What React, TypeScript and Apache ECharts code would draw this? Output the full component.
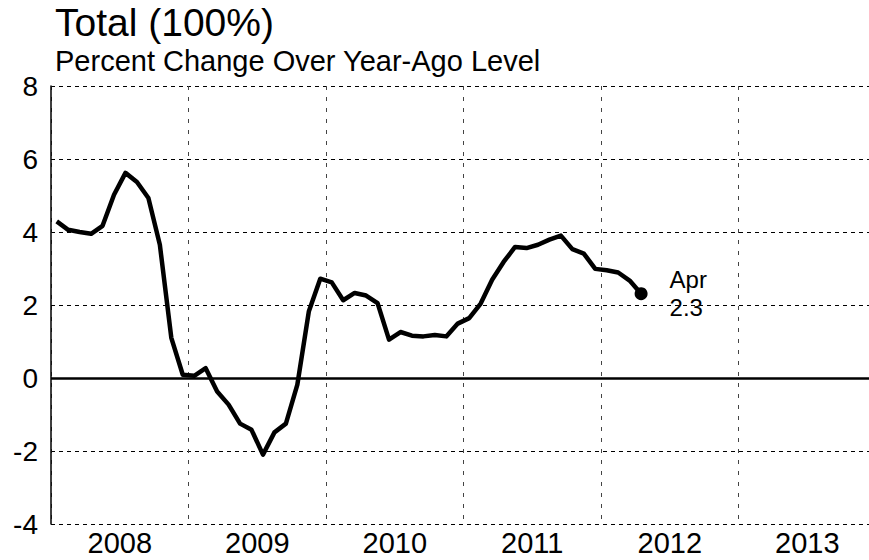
import { useEffect, useRef } from "react";
import * as echarts from "echarts";

const months = [
  "Jan 2008", "Feb 2008", "Mar 2008", "Apr 2008", "May 2008", "Jun 2008", "Jul 2008", "Aug 2008", "Sep 2008", "Oct 2008", "Nov 2008", "Dec 2008",
  "Jan 2009", "Feb 2009", "Mar 2009", "Apr 2009", "May 2009", "Jun 2009", "Jul 2009", "Aug 2009", "Sep 2009", "Oct 2009", "Nov 2009", "Dec 2009",
  "Jan 2010", "Feb 2010", "Mar 2010", "Apr 2010", "May 2010", "Jun 2010", "Jul 2010", "Aug 2010", "Sep 2010", "Oct 2010", "Nov 2010", "Dec 2010",
  "Jan 2011", "Feb 2011", "Mar 2011", "Apr 2011", "May 2011", "Jun 2011", "Jul 2011", "Aug 2011", "Sep 2011", "Oct 2011", "Nov 2011", "Dec 2011",
  "Jan 2012", "Feb 2012", "Mar 2012", "Apr 2012",
];

const values = [
  4.29, 4.06, 4.0, 3.95, 4.17, 5.02, 5.62, 5.37, 4.93, 3.65, 1.1, 0.09,
  0.06, 0.27, -0.37, -0.73, -1.25, -1.42, -2.1, -1.49, -1.25, -0.18, 1.82, 2.72,
  2.62, 2.13, 2.33, 2.26, 2.05, 1.05, 1.26, 1.16, 1.14, 1.18, 1.14, 1.49,
  1.64, 2.04, 2.69, 3.18, 3.59, 3.56, 3.65, 3.79, 3.9, 3.53, 3.41, 2.99,
  2.95, 2.89, 2.67, 2.31,
];

const years = ["2008", "2009", "2010", "2011", "2012", "2013"];

const yMin = -4;
const yMax = 8;
const yStep = 2;

const TITLE = "Total (100%)";
const SUBTITLE = "Percent Change Over Year-Ago Level";
const FONT = "Arial";

export default function App() {
  const ref = useRef<HTMLDivElement>(null);

  useEffect(() => {
    if (!ref.current) return;
    const chart = echarts.init(ref.current, null, { renderer: "svg" });
    const monthsPerYear = 12;
    const xMax = years.length * monthsPerYear;
    const lineData = values.map((v, i) => [i + 0.5, v]);
    const lastIdx = values.length - 1;
    const lastMonth = months[lastIdx].split(" ")[0];

    chart.setOption({
      animation: false,
      textStyle: { fontFamily: FONT },
      title: {
        text: TITLE,
        subtext: SUBTITLE,
        left: 55,
        top: 3,
        padding: 0,
        itemGap: 4,
        textStyle: { fontFamily: FONT, fontSize: 39, fontWeight: "normal", color: "#000" },
        subtextStyle: { fontFamily: FONT, fontSize: 29, color: "#000" },
      },
      grid: {
        left: 51,
        right: -7,
        top: 86,
        bottom: 36,
        containLabel: false,
        outerBoundsMode: "none",
      },
      xAxis: [
        {
          type: "value",
          min: 0,
          max: xMax,
          interval: monthsPerYear,
          axisLine: { show: false },
          axisTick: { show: false },
          axisLabel: { show: false },
          splitLine: {
            show: true,
            lineStyle: { color: "#444", width: 1, type: [4, 7] },
          },
        },
        {
          type: "category",
          data: years,
          position: "bottom",
          boundaryGap: true,
          axisLine: { show: false },
          axisTick: { show: false },
          splitLine: { show: false },
          axisLabel: { fontFamily: FONT, fontSize: 29, color: "#000", margin: 4 },
        },
      ],
      yAxis: {
        type: "value",
        min: yMin,
        max: yMax,
        interval: yStep,
        axisLine: { show: true, lineStyle: { color: "#000", width: 1.5 } },
        axisTick: { show: false },
        axisLabel: { fontFamily: FONT, fontSize: 28, color: "#000", margin: 13 },
        splitLine: {
          show: true,
          lineStyle: { color: "#000", width: 1, type: [4, 4] },
        },
      },
      series: [
        {
          type: "line",
          xAxisIndex: 0,
          data: lineData,
          symbol: "none",
          lineStyle: { color: "#000", width: 4.5, join: "round" },
          markLine: {
            silent: true,
            symbol: "none",
            label: { show: false },
            lineStyle: { color: "#000", width: 2.5, type: "solid" },
            data: [{ yAxis: 0 }],
          },
          z: 3,
        },
        {
          type: "scatter",
          xAxisIndex: 0,
          data: [lineData[lastIdx]],
          symbol: "circle",
          symbolSize: 13,
          itemStyle: { color: "#000", opacity: 1 },
          label: {
            show: true,
            position: "right",
            distance: 22,
            formatter: () => `${lastMonth}\n${values[lastIdx].toFixed(1)}`,
            fontFamily: FONT,
            fontSize: 24,
            lineHeight: 28,
            color: "#000",
            align: "left",
          },
          z: 4,
        },
      ],
    });
    return () => chart.dispose();
  }, []);

  return (
    <div
      ref={ref}
      style={{ position: "absolute", left: 0, top: 0, width: 869, height: 560 }}
    />
  );
}
